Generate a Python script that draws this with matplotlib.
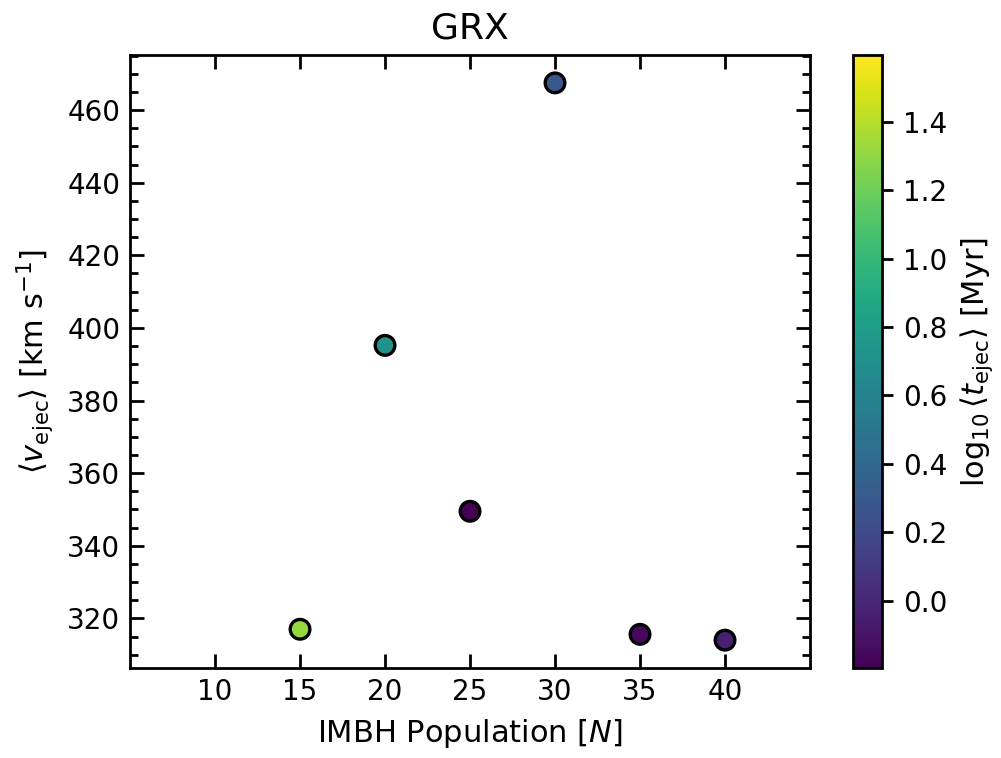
import numpy as np
import matplotlib
matplotlib.use('Agg')
import matplotlib.pyplot as plt
from matplotlib.ticker import MultipleLocator

# data
pop = [15, 20, 25, 30, 35, 40]
v_ejec = [317.0, 395.2, 349.5, 467.5, 315.6, 314.0]
log_t_ejec = [1.31, 0.70, -0.197, 0.29, -0.16, -0.03]
c_min, c_max = -0.197, 1.595
x_ticks = [10, 15, 20, 25, 30, 35, 40]

fig = plt.figure(figsize=(5.005, 3.79), dpi=200)
ax = fig.add_axes([0.1299, 0.1187, 0.6793, 0.8087])
cax = fig.add_axes([0.8522, 0.1187, 0.0290, 0.8087])

sc = ax.scatter(pop, v_ejec, c=log_t_ejec, cmap='viridis', vmin=c_min, vmax=c_max,
                s=50, edgecolors='black', linewidths=1.2, zorder=3)

ax.set_xlim(5, 45)
ax.set_xticks(x_ticks)
ax.yaxis.set_major_locator(MultipleLocator(20))
ax.yaxis.set_minor_locator(MultipleLocator(5))
ax.tick_params(axis='both', which='both', direction='in', top=True, right=True, labelsize=10)
ax.tick_params(axis='both', which='major', length=5, width=1)
ax.tick_params(axis='y', which='minor', length=3, width=1)
ax.tick_params(axis='x', which='minor', length=0)
for sp in ax.spines.values():
    sp.set_linewidth(1)

ax.set_xlabel(r'IMBH Population [$N$]', fontsize=11)
ax.set_ylabel(r'$\langle v_{\rm ejec}\rangle$ [km s$^{-1}$]', fontsize=11)
ax.set_title('GRX', fontsize=13)

cb = fig.colorbar(sc, cax=cax)
cb.set_label(r'$\log_{10}\langle t_{\rm ejec}\rangle$ [Myr]', fontsize=11)
cb.ax.tick_params(labelsize=10, length=4, width=1)
cb.outline.set_linewidth(1)

fig.savefig('out.png', dpi=200)
